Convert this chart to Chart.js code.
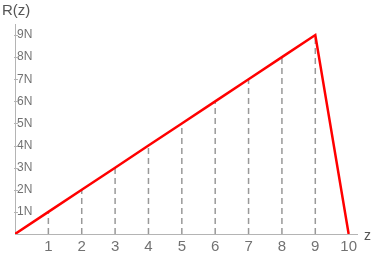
<!DOCTYPE html>
<html>
<head>
<meta charset="utf-8">
<script src="https://cdn.jsdelivr.net/npm/chart.js@4"></script>
<style>
  html, body { margin: 0; padding: 0; background: #fff; }
  #wrap { width: 374px; height: 258px; }
</style>
</head>
<body>
<div id="wrap"><canvas id="rz"></canvas></div>
<script>
// data
var zValues = [0, 1, 2, 3, 4, 5, 6, 7, 8, 9, 10];
var rValues = [0, 1, 2, 3, 4, 5, 6, 7, 8, 9, 0];
var xTicks = [1, 2, 3, 4, 5, 6, 7, 8, 9, 10];
var yTicks = [1, 2, 3, 4, 5, 6, 7, 8, 9];
var yTickLabels = ['1N', '2N', '3N', '4N', '5N', '6N', '7N', '8N', '9N'];

var axisColor = '#b4b4b4';
var labelColor = '#727272';
var font = 'Liberation Sans, Arial, sans-serif';

// red polyline
var lineData = zValues.map(function(z, i) { return {x: z, y: rValues[i]}; });

var datasets = [{
    data: lineData,
    borderColor: '#ff0000',
    borderWidth: 2.5,
    pointRadius: 0,
    tension: 0,
    fill: false,
    order: 0
}];

// dashed drop lines from the axis up to the curve
zValues.forEach(function(z, i) {
    if (rValues[i] <= 0) return;
    datasets.push({
        data: [{x: z, y: 0}, {x: z, y: rValues[i]}],
        borderColor: '#999',
        borderWidth: 1.5,
        borderDash: [6, 4],
        pointRadius: 0,
        fill: false,
        order: 1
    });
});

// little tick marks on the y axis + axis names
var extras = {
    id: 'extras',
    afterDraw: function(chart) {
        var ctx = chart.ctx;
        var ys = chart.scales.y;
        var left = chart.chartArea.left;
        ctx.save();
        ctx.strokeStyle = axisColor;
        ctx.lineWidth = 1;
        yTicks.forEach(function(v) {
            var py = Math.round(ys.getPixelForValue(v)) + 0.5;
            ctx.beginPath();
            ctx.moveTo(left - 1, py);
            ctx.lineTo(left + 3, py);
            ctx.stroke();
        });
        ctx.fillStyle = '#555';
        ctx.font = '15px ' + font;
        ctx.textBaseline = 'alphabetic';
        ctx.textAlign = 'left';
        ctx.fillText('R(z)', 2, 15);
        ctx.font = '14px ' + font;
        ctx.fillText('z', 364, 240);
        ctx.restore();
    }
};

new Chart(document.getElementById('rz'), {
    type: 'line',
    data: {datasets: datasets},
    plugins: [extras],
    options: {
        responsive: true,
        maintainAspectRatio: false,
        animation: false,
        devicePixelRatio: 1,
        layout: {padding: {top: 24, right: 17, left: 0, bottom: 0}},
        plugins: {legend: {display: false}, tooltip: {enabled: false}},
        scales: {
            x: {
                type: 'linear',
                min: 0,
                max: 10.25,
                afterFit: function(s) { s.height = 24; },
                afterBuildTicks: function(s) {
                    s.ticks = xTicks.map(function(v) { return {value: v}; });
                },
                grid: {display: false, drawTicks: false},
                border: {display: true, color: axisColor, width: 1},
                ticks: {
                    color: labelColor,
                    font: {family: font, size: 15},
                    padding: 4,
                    maxRotation: 0,
                    autoSkip: false
                }
            },
            y: {
                type: 'linear',
                min: 0,
                max: 9.5,
                afterFit: function(s) { s.width = 15; },
                afterBuildTicks: function(s) {
                    s.ticks = yTicks.map(function(v) { return {value: v}; });
                },
                grid: {display: false, drawTicks: false},
                border: {display: true, color: axisColor, width: 1},
                ticks: {
                    mirror: true,
                    padding: 2,
                    color: labelColor,
                    font: {family: font, size: 12},
                    autoSkip: false,
                    callback: function(v) {
                        var i = yTicks.indexOf(v);
                        return i >= 0 ? yTickLabels[i] : '';
                    }
                }
            }
        }
    }
});
</script>
</body>
</html>
